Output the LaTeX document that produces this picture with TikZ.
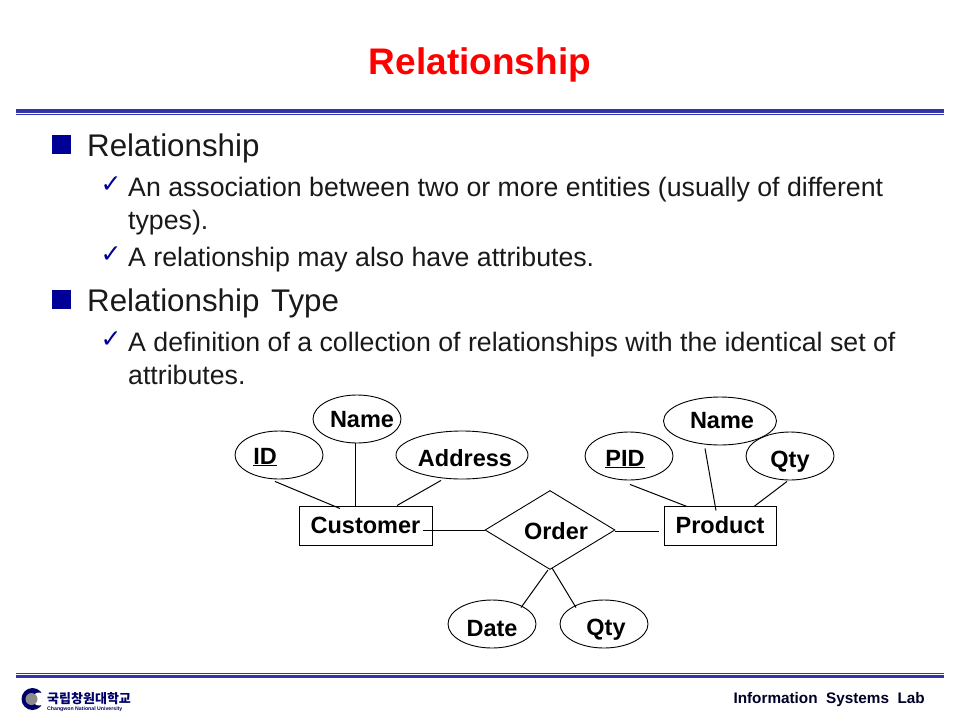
\documentclass[tikz,border=0pt]{standalone}
\usepackage{fontspec}
\setmainfont{Liberation Sans}
\newfontfamily\krfont{Noto Sans CJK KR}
\newfontfamily\checkfont{DejaVu Sans}
\usetikzlibrary{shapes.geometric}
\definecolor{rulecolor}{RGB}{51,51,170}
\definecolor{bulletcolor}{RGB}{0,0,150}

\begin{document}
\begin{tikzpicture}[x=1pt,y=-1pt,
    every label/.style={font=\fontsize{23.5}{23.5}\bfseries\selectfont,text height=16pt,text depth=0pt,inner sep=0pt},
    attr/.style={ellipse,draw,line width=0.9pt,inner sep=0pt,minimum width=88pt,minimum height=48pt},
    entity/.style={rectangle,draw,line width=1pt,inner sep=0pt,minimum height=39pt,text height=16pt,text depth=0pt,font=\fontsize{23.5}{23.5}\bfseries\selectfont},
    rel/.style={diamond,draw,line width=0.9pt,inner sep=0pt,minimum width=130pt,minimum height=79pt},
    link/.style={line width=1pt},
    head/.style={anchor=base west,inner sep=0pt,font=\fontsize{31.3}{31.3}\selectfont,text=black!90},
    body/.style={anchor=base west,inner sep=0pt,font=\fontsize{26.7}{26.7}\selectfont,text=black!90},
    box/.style={fill=bulletcolor,inner sep=0pt,minimum size=19pt},
    tick/.style={inner sep=0pt,text=bulletcolor,font=\checkfont\fontsize{25}{25}\selectfont}]

    \useasboundingbox (0,0) rectangle (960,720);

    % title and rules
    \node[anchor=base,inner sep=0pt,text=red,font=\fontsize{37}{37}\bfseries\selectfont] (title) at (480,74) {Relationship};
    \fill[rulecolor] (16,109) rectangle (944,113);
    \fill[rulecolor] (16,114) rectangle (944,115.3);
    \fill[rulecolor] (16,673) rectangle (944,674.2);
    \fill[rulecolor] (16,674.8) rectangle (944,678);

    % text
    \node[box] (b1) at (61.5,144.5) {};
    \node[head] (t1) at (87,156) {Relationship};
    \node[tick] (c1) at (111,185) {✓};
    \node[body] (t2) at (128,196) {An association between two or more entities (usually of different};
    \node[body] (t3) at (128,229) {types).};
    \node[tick] (c2) at (111,255) {✓};
    \node[body] (t4) at (128,266) {A relationship may also have attributes.};
    \node[box] (b2) at (61.5,299.5) {};
    \node[head] (t5) at (87,311) {Relationship\hspace{3pt} Type};
    \node[tick] (c3) at (111,340) {✓};
    \node[body] (t6) at (128,351) {A definition of a collection of relationships with the identical set of};
    \node[body] (t7) at (128,384) {attributes.};

    % ER diagram
    \node[entity,minimum width=133pt] (customer) at (365.5,525.5) {Customer};
    \node[entity,minimum width=112pt] (product) at (720,525.5) {Product};
    \node[rel,label={[xshift=6pt,yshift=-1pt]center:Order}] (order) at (550,530) {};

    \node[attr,label={[xshift=-14pt,yshift=-1pt]center:\underline{ID}}] (id) at (279,455) {};
    \node[attr,label={[xshift=5pt]center:Name}] (cname) at (357,419) {};
    \node[attr,minimum width=132pt,label={[xshift=3pt,yshift=-3pt]center:Address}] (address) at (462,455) {};
    \node[attr,label={[xshift=-4pt,yshift=-2pt]center:\underline{PID}}] (pid) at (629,456) {};
    \node[attr,minimum width=113pt,label={[xshift=2pt,yshift=1pt]center:Name}] (pname) at (720,421) {};
    \node[attr,label={[yshift=-3pt]center:Qty}] (pqty) at (790,456) {};
    \node[attr,label={[yshift=-4pt]center:Date}] (date) at (492,624) {};
    \node[attr,label={[xshift=2pt,yshift=-3pt]center:Qty}] (oqty) at (604,624) {};

    \draw[link] ([xshift=-4pt,yshift=-2pt]id.south) -- ([xshift=-25.5pt,yshift=-3pt]customer.north);
    \draw[link] ([xshift=-2pt]cname.south) -- ([xshift=-10.5pt]customer.north);
    \draw[link] ([xshift=-21pt,yshift=-1pt]address.south) -- ([xshift=31.5pt]customer.north);
    \draw[link] ([xshift=-10pt,yshift=-4.5pt]customer.east) -- (order.west);
    \draw[link] ([yshift=-1pt]order.east) -- ([xshift=-5pt,yshift=-5.5pt]product.west);
    \draw[link] ([xshift=-2pt]order.south) -- ([xshift=29pt,yshift=-8pt]date.north);
    \draw[link] ([xshift=2pt,yshift=2pt]order.south) -- ([xshift=-28pt,yshift=-8pt]oqty.north);
    \draw[link] ([xshift=1pt,yshift=-4pt]pid.south) -- ([xshift=-33pt,yshift=-1pt]product.north);
    \draw[link] ([xshift=-15pt,yshift=-3pt]pname.south) -- ([xshift=-4pt,yshift=-5pt]product.north);
    \draw[link] ([xshift=-3pt,yshift=-1pt]pqty.south) -- ([xshift=34pt,yshift=-1pt]product.north);

    % footer
    \fill[bulletcolor!70!black] (32.5,699) circle (11);
    \fill[white] (39,699) circle (6.5);
    \fill[black!45] (31.5,699) circle (6);
    \node[anchor=base west,inner sep=0pt,text=bulletcolor!70!black,font=\krfont\fontsize{13}{13}\bfseries\selectfont] (logo) at (47,703) {국립창원대학교};
    \node[anchor=base west,inner sep=0pt,text=bulletcolor!70!black,font=\fontsize{5.2}{5.2}\bfseries\selectfont] (logoen) at (47,710) {Changwon National University};
    \node[anchor=base east,inner sep=0pt,text=black!85!blue,font=\fontsize{15.3}{15.3}\bfseries\selectfont] (lab) at (925,703) {Information\ \ Systems\ \ Lab};
\end{tikzpicture}
\end{document}
